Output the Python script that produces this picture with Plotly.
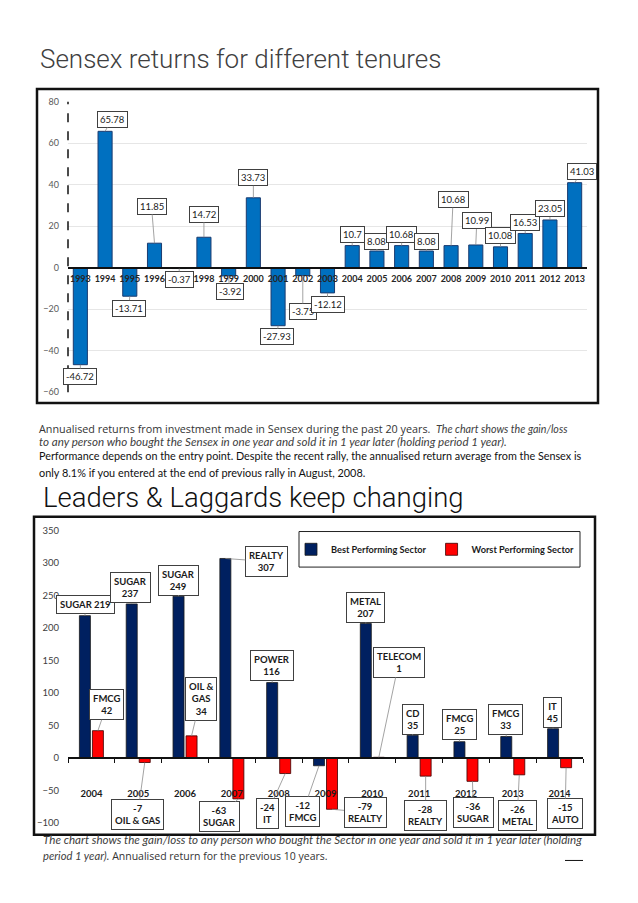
import plotly.graph_objects as go

# ---------------- data : chart 1 ----------------
years1 = [str(y) for y in range(1993, 2014)]
returns1 = [-46.72, 65.78, -13.71, 11.85, -0.37, 14.72, -3.92, 33.73, -27.93, -3.75,
            -12.12, 10.7, 8.08, 10.68, 8.08, 10.68, 10.99, 10.08, 16.53, 23.05, 41.03]

# ---------------- data : chart 2 ----------------
years2 = [str(y) for y in range(2004, 2015)]
best_sector = ["SUGAR", "SUGAR", "SUGAR", "REALTY", "POWER", "FMCG", "METAL", "CD", "FMCG", "FMCG", "IT"]
best_value = [219, 237, 249, 307, 116, -12, 207, 35, 25, 33, 45]
worst_sector = ["FMCG", "OIL & GAS", "OIL &<br>GAS", "SUGAR", "IT", "REALTY", "TELECOM",
                "REALTY", "SUGAR", "METAL", "AUTO"]
worst_value = [42, -7, 34, -63, -24, -79, 1, -28, -36, -26, -15]
best_sep = [" "] + ["<br>"] * 10
worst_sep = ["<br>"] * 11

# ---------------- label offsets (pixels, layout only) ----------------
lab1_ax = [0, 7, -1, -3, 0, 0, 1, 0, -1, 0, 0, 0, 0, 0, 0, 2, 1, 0, 0, 0, 7]
lab1_ay = [12, -12, 12, -37, 11, -23, 16, -20, 11, 36, 12, -11, -10, -11, -10, -46, -24, -11, -11, -11, -11]
best_ax = [1, -1, 0, 41, 0, -16, 0, 0, 0, -1, -1]
best_ay = [-11, -16, -16, 3, -17, 46, -16, -16, -17, -17, -16]
worst_ax = [9, -7, 9, -19, -18, 33, 20, 0, 1, -2, -1]
worst_ay = [-26, 52, -37, 18, 40, 3, -95, 39, 31, 41, 46]

W, H = 638, 903
def px(x):
    return x / W
def py(y):
    return 1 - y / H

# plot areas (pixels)
c1_x0, c1_x1, c1_ytop, c1_ybot = 68, 587, 97, 391
c2_x0, c2_x1, c2_ytop, c2_ybot = 68, 583, 531, 827
r1 = [-60, 80]
r2 = [-100, 350]
d1y = [py(c1_ybot), py(c1_ytop)]
d2y = [py(c2_ybot), py(c2_ytop)]
pos1 = d1y[0] + (0 - r1[0]) / (r1[1] - r1[0]) * (d1y[1] - d1y[0])
pos2 = d2y[0] + (0 - r2[0]) / (r2[1] - r2[0]) * (d2y[1] - d2y[0])

bargap = 0.444
bargroupgap = 0.154
cat_w2 = (c2_x1 - c2_x0) / len(years2)
shift2 = cat_w2 * (1 - bargap) / 4

LBL = "Lato"
fig = go.Figure()

fig.add_trace(go.Bar(
    x=years1, y=returns1, xaxis="x", yaxis="y", width=0.57, showlegend=False,
    marker=dict(color="#0070C0", line=dict(color="#1b3b6f", width=1))))

fig.add_trace(go.Bar(
    x=years2, y=best_value, xaxis="x2", yaxis="y2", name="Best Performing Sector",
    marker=dict(color="#002060", line=dict(color="#1a1a1a", width=0.8))))
fig.add_trace(go.Bar(
    x=years2, y=worst_value, xaxis="x2", yaxis="y2", name="Worst Performing Sector",
    marker=dict(color="#FF0000", line=dict(color="#3a0000", width=0.8))))

ann = []
for i, (v, ax, ay) in enumerate(zip(returns1, lab1_ax, lab1_ay)):
    ann.append(dict(x=i, y=v, xref="x", yref="y", text=str(v), showarrow=True,
                    arrowhead=0, arrowwidth=0.8, arrowcolor="#8c8c8c", ax=ax, ay=ay,
                    standoff=0, bordercolor="#404040", borderwidth=1, borderpad=2,
                    bgcolor="white", font=dict(family=LBL, size=9.5, color="#1a1a1a")))

def lab2(s, v, sep):
    return f"{v}{sep}{s}" if v < 0 else f"{s}{sep}{v}"

for i in range(len(years2)):
    for s, v, sep, ax, ay, sh in [
        (best_sector[i], best_value[i], best_sep[i], best_ax[i], best_ay[i], -shift2),
        (worst_sector[i], worst_value[i], worst_sep[i], worst_ax[i], worst_ay[i], shift2)]:
        ann.append(dict(x=i, y=v, xref="x2", yref="y2", text=lab2(s, v, sep), showarrow=True,
                        arrowhead=0, arrowwidth=0.8, arrowcolor="#8c8c8c", ax=ax, ay=ay,
                        xshift=sh, standoff=0, bordercolor="#404040", borderwidth=1,
                        borderpad=3, bgcolor="white",
                        font=dict(family=LBL, size=9.5, color="#1a1a1a", weight="bold")))

# texts
ann.append(dict(x=px(38), y=py(54), xref="paper", yref="paper", xanchor="left", yanchor="middle",
                showarrow=False, text="Sensex returns for different tenures",
                font=dict(family="Roboto", weight=300, size=26, color="#404040")))
ann.append(dict(x=px(41), y=py(498), xref="paper", yref="paper", xanchor="left", yanchor="middle",
                showarrow=False, text="Leaders &amp; Laggards keep changing",
                font=dict(family="Roboto", weight=300, size=27.5, color="#111111")))

ann.append(dict(x=px(37), y=py(428), xref="paper", yref="paper", xanchor="left", yanchor="middle",
                showarrow=False, align="left",
                text="Annualised returns from investment made in Sensex during the past 20 years.  "
                     "<span style='font-family:Lato;font-size:10.7px;font-style:italic;color:#404040'>"
                     "The chart shows the gain/loss</span>",
                font=dict(family="Open Sans", size=10.8, color="#333333")))
ann.append(dict(x=px(37), y=py(441), xref="paper", yref="paper", xanchor="left", yanchor="middle",
                showarrow=False, align="left",
                text="<i>to any person who bought the Sensex in one year and sold it in 1 year later "
                     "(holding period 1 year).</i>",
                font=dict(family=LBL, size=11.6, color="#404040")))
ann.append(dict(x=px(37), y=py(455), xref="paper", yref="paper", xanchor="left", yanchor="middle",
                showarrow=False, align="left",
                text="Performance depends on the entry point. Despite the recent rally, the annualised "
                     "return average from the Sensex is",
                font=dict(family=LBL, size=10.8, color="#111111")))
ann.append(dict(x=px(37), y=py(472), xref="paper", yref="paper", xanchor="left", yanchor="middle",
                showarrow=False, align="left",
                text="only 8.1% if you entered at the end of previous rally in August, 2008.",
                font=dict(family=LBL, size=10.9, color="#111111")))

ann.append(dict(x=px(41), y=py(844), xref="paper", yref="paper", xanchor="left", yanchor="middle",
                showarrow=False, align="left",
                text="<i>The chart shows the gain/loss to any person who bought the Sector in one year "
                     "and sold it in 1 year later (holding</i>",
                font=dict(family=LBL, size=11.6, color="#404040")))
ann.append(dict(x=px(41), y=py(860), xref="paper", yref="paper", xanchor="left", yanchor="middle",
                showarrow=False, align="left",
                text="<i>period 1 year).</i> "
                     "<span style='font-family:Open Sans;font-size:10.5px;color:#333333'>"
                     "Annualised return for the previous 10 years.</span>",
                font=dict(family=LBL, size=11.2, color="#404040")))

shapes = [
    dict(type="rect", xref="paper", yref="paper", x0=px(37), x1=px(598), y0=py(402), y1=py(84),
         line=dict(color="#111111", width=2.5)),
    dict(type="rect", xref="paper", yref="paper", x0=px(34), x1=px(595), y0=py(839), y1=py(517),
         line=dict(color="#111111", width=2.5)),
    dict(type="line", xref="x domain", yref="y domain", x0=0, x1=0, y0=0, y1=1,
         line=dict(color="#111111", width=1.5, dash="dash")),
    dict(type="rect", xref="paper", yref="paper", x0=px(299), x1=px(580), y0=py(568), y1=py(532),
         line=dict(color="#222222", width=1)),
    dict(type="line", xref="paper", yref="paper", x0=px(565), x1=px(583), y0=py(865), y1=py(865),
         line=dict(color="#111111", width=1)),
]

fig.update_layout(
    width=W, height=H, margin=dict(l=0, r=0, t=0, b=0),
    paper_bgcolor="white", plot_bgcolor="white",
    barmode="group", bargap=bargap, bargroupgap=bargroupgap,
    annotations=ann, shapes=shapes,
    showlegend=True,
    legend=dict(orientation="h", x=px(291), xanchor="left", y=py(550), yanchor="middle",
                font=dict(family=LBL, size=9.2, color="#1a1a1a", weight="bold"),
                bgcolor="rgba(0,0,0,0)", itemwidth=30, traceorder="normal"),
    xaxis=dict(domain=[px(c1_x0), px(c1_x1)], anchor="free", position=pos1, type="category",
               range=[-0.5, len(years1) - 0.5], tickangle=0,
               showline=True, linecolor="#111111", linewidth=2, ticks="", showgrid=False,
               ticklabelstandoff=2,
               tickfont=dict(family=LBL, size=9, color="#262626", weight="bold")),
    yaxis=dict(domain=d1y, range=r1, dtick=20, anchor="x", showgrid=True, gridcolor="#e6e6e6",
               zeroline=False, showline=False, ticks="", ticklabelstandoff=8,
               tickfont=dict(family=LBL, size=9, color="#595959")),
    xaxis2=dict(domain=[px(c2_x0), px(c2_x1)], anchor="free", position=pos2, type="category",
                range=[-0.5, len(years2) - 0.5], tickangle=0,
                showline=True, linecolor="#111111", linewidth=1.5, ticks="outside", ticklen=4,
                tickcolor="#111111", tickson="boundaries", showgrid=False, ticklabelstandoff=27,
                tickfont=dict(family=LBL, size=9.5, color="#1a1a1a", weight="bold")),
    yaxis2=dict(domain=d2y, range=r2, dtick=50, anchor="x2", showgrid=False, zeroline=False,
                showline=False, ticks="", ticklabelstandoff=8,
                tickfont=dict(family=LBL, size=9.5, color="#404040")),
)

fig.write_html("out.html", config={"displayModeBar": False},
               post_script="document.body.style.margin='0px';")
